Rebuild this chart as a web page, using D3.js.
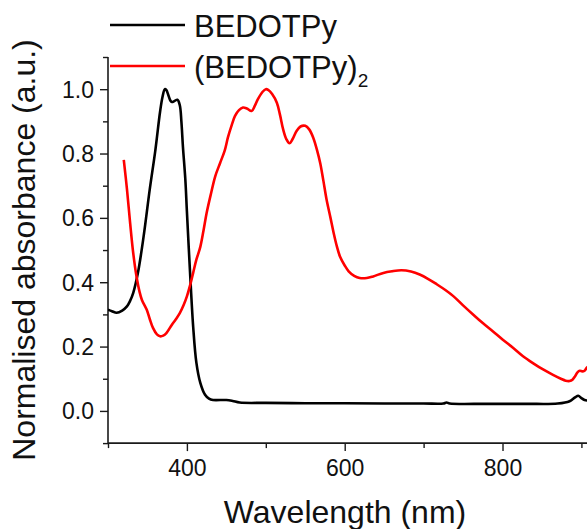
<!DOCTYPE html>
<html>
<head>
<meta charset="utf-8">
<script src="https://cdn.jsdelivr.net/npm/d3@7"></script>
<style>
  html, body { margin: 0; padding: 0; background: #fff; }
  svg { display: block; font-family: "Liberation Sans", Arial, sans-serif; }
</style>
</head>
<body>
<svg id="chart" width="587" height="529"></svg>
<script>
// ---- Data ----
const monoWavelength = [300,305,311,318,324,328,332,338,345,353,360,366,369,372,374,376,379,381,384,388,391,393,395,398,400,404,408,412,417,423,428,433,450,458,467,500,550,600,650,700,725,729,733,780,830,870,885,892,896,900,904,910];
const monoAbs = [0.315,0.310,0.305,0.312,0.325,0.342,0.367,0.43,0.54,0.69,0.81,0.93,0.975,1.0,0.997,0.985,0.965,0.96,0.963,0.967,0.95,0.90,0.82,0.72,0.62,0.43,0.26,0.15,0.087,0.05,0.038,0.034,0.034,0.031,0.026,0.025,0.024,0.024,0.023,0.023,0.023,0.026,0.023,0.022,0.022,0.023,0.030,0.042,0.047,0.040,0.034,0.032];

const dimerWavelength = [320,324,328,332,336,340,343,349,353,357,362,366,370,374,381,386,391,396,400,404,408,412,417,421,425,430,436,442,448,452,457,461,466,471,476,482,486,490,496,500,503,508,514,518,522,526,530,534,539,544,550,555,560,565,569,573,577,582,586,590,594,600,605,612,619,628,636,649,660,672,684,695,706,717,728,738,750,763,775,788,800,814,826,839,852,864,874,880,885,889,892,895,898,901,904,907,910];
const dimerAbs = [0.78,0.69,0.585,0.49,0.42,0.37,0.345,0.315,0.285,0.258,0.238,0.232,0.234,0.242,0.268,0.285,0.304,0.33,0.356,0.39,0.43,0.47,0.51,0.56,0.615,0.67,0.73,0.77,0.81,0.85,0.89,0.917,0.935,0.943,0.94,0.932,0.948,0.969,0.992,1.0,0.998,0.985,0.958,0.92,0.875,0.845,0.832,0.845,0.87,0.884,0.886,0.875,0.85,0.81,0.77,0.715,0.657,0.60,0.553,0.512,0.48,0.452,0.434,0.42,0.413,0.413,0.418,0.429,0.434,0.437,0.433,0.424,0.41,0.393,0.375,0.356,0.328,0.299,0.273,0.247,0.222,0.195,0.17,0.148,0.128,0.112,0.10,0.094,0.093,0.098,0.108,0.12,0.125,0.123,0.125,0.135,0.14];

const xMajorTicks = [400, 600, 800];
const xMinorTicks = [300, 500, 700, 900];
const yMajorTicks = [0.0, 0.2, 0.4, 0.6, 0.8, 1.0];
const yMinorTicks = [-0.1, 0.1, 0.3, 0.5, 0.7, 0.9, 1.1];
const seriesNames = ["BEDOTPy", "(BEDOTPy)"];
const seriesColors = ["#000000", "#ff0000"];

// ---- Layout ----
const svg = d3.select("#chart");
const plotL = 108, plotR = 589.3, plotT = 57, plotB = 443.1;
const x = d3.scaleLinear().domain([300, 910]).range([plotL, plotR]);
const y = d3.scaleLinear().domain([-0.1, 1.1]).range([plotB, plotT]);

svg.append("defs").append("clipPath").attr("id", "plotclip")
  .append("rect").attr("x", plotL).attr("y", plotT - 10).attr("width", plotR - plotL).attr("height", plotB - plotT + 10);

// Axes
const axisColor = "#1a1a1a";
const gx = svg.append("g").attr("transform", `translate(0,${plotB})`);
gx.call(d3.axisBottom(x).tickValues(xMajorTicks).tickSize(8).tickSizeOuter(0).tickFormat(d3.format("d")));
gx.append("g").call(d3.axisBottom(x).tickValues(xMinorTicks).tickSize(5).tickSizeOuter(0).tickFormat(""));
gx.selectAll(".domain").remove();
gx.append("line").attr("x1", plotL).attr("x2", 587).attr("stroke", axisColor).attr("stroke-width", 1.6);

const gy = svg.append("g").attr("transform", `translate(${plotL},0)`);
gy.call(d3.axisLeft(y).tickValues(yMajorTicks).tickSize(8).tickSizeOuter(0).tickFormat(d3.format(".1f")));
gy.append("g").call(d3.axisLeft(y).tickValues(yMinorTicks).tickSize(5).tickSizeOuter(0).tickFormat(""));
gy.selectAll(".domain").remove();
gy.append("line").attr("y1", plotT).attr("y2", plotB + 0.8).attr("stroke", axisColor).attr("stroke-width", 1.6);

svg.selectAll(".tick line").attr("stroke", axisColor).attr("stroke-width", 1.4);
svg.selectAll(".tick text").attr("fill", "#111").style("font-size", "23px")
  .style("font-family", '"Liberation Sans", Arial, sans-serif');
gx.selectAll(".tick text").attr("dy", null).attr("y", 33);
gy.selectAll(".tick text").attr("x", -14).attr("dy", "0.35em");

// Axis titles
svg.append("text").attr("x", 345).attr("y", 522.5).attr("text-anchor", "middle")
  .style("font-size", "32px").attr("fill", "#111").text("Wavelength (nm)");
svg.append("text").attr("transform", "translate(35,250) rotate(-90)").attr("text-anchor", "middle")
  .style("font-size", "32px").attr("fill", "#111").text("Normalised absorbance (a.u.)");

// Lines
const line = d3.line().x(d => x(d[0])).y(d => y(d[1])).curve(d3.curveCatmullRom.alpha(0.5));
const plot = svg.append("g").attr("clip-path", "url(#plotclip)");
plot.append("path").datum(monoWavelength.map((w, i) => [w, monoAbs[i]]))
  .attr("d", line).attr("fill", "none").attr("stroke", seriesColors[0]).attr("stroke-width", 2.6).attr("stroke-linejoin", "round");
plot.append("path").datum(dimerWavelength.map((w, i) => [w, dimerAbs[i]]))
  .attr("d", line).attr("fill", "none").attr("stroke", seriesColors[1]).attr("stroke-width", 2.6).attr("stroke-linejoin", "round");

// Legend
const legY = [25, 66];
const legBase = [36.5, 77.5];
seriesNames.forEach((name, i) => {
  svg.append("line").attr("x1", 110).attr("x2", 185).attr("y1", legY[i]).attr("y2", legY[i])
    .attr("stroke", seriesColors[i]).attr("stroke-width", 2.6);
  const t = svg.append("text").attr("x", 194).attr("y", legBase[i]).style("font-size", "31px").attr("fill", "#111");
  t.append("tspan").text(name);
  if (i === 1) t.append("tspan").attr("dy", 9).style("font-size", "19px").text("2");
});
</script>
</body>
</html>
